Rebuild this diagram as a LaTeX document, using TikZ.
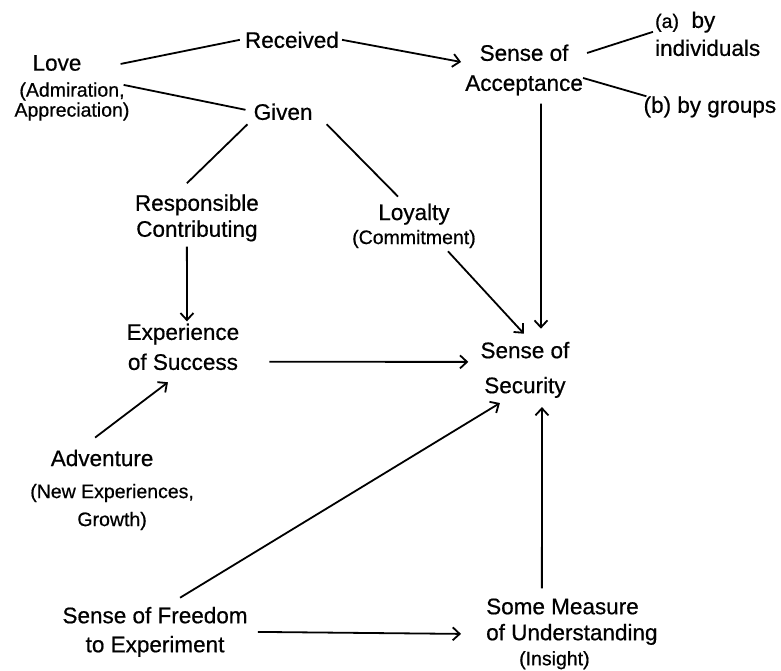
\documentclass[tikz,border=0pt]{standalone}
\usepackage{fontspec}
\setmainfont{Liberation Sans}[FakeBold=0.6]
\usetikzlibrary{arrows.meta}

\newcommand{\bigtxt}{\fontsize{22.5}{27}\selectfont}
\newcommand{\smalltxt}{\fontsize{19.5}{23}\selectfont}

\tikzset{
  lbl/.style={font=\bigtxt, align=center, inner sep=0pt},
  link/.style={line width=1.8pt},
  arr/.style={link, -{Straight Barb[length=7pt,width=13pt]}}
}

\begin{document}
\begin{tikzpicture}
\useasboundingbox (0, 0) rectangle (27.45, 23.58);
% top part
\node[lbl] (love) at (2.53, 20.49) {Love\hspace*{30pt}\\[-1pt]{\smalltxt (Admiration,\hspace*{10pt}}\\[-7pt]{\smalltxt Appreciation)}};
\node[lbl] (received) at (10.26, 22.18) {Received};
\node[lbl] (given) at (9.95, 19.65) {Given};
\node[lbl] (accept) at (18.42, 21.12) {Sense of\\[3pt]Acceptance};
\node[lbl, anchor=west, align=left] (indiv) at (23.02, 22.39) {{\smalltxt (a)}\ \ by\\[1pt]individuals};
\node[lbl] (groups) at (24.95, 19.82) {(b) by groups};
% middle part
\node[lbl] (resp) at (6.92, 15.92) {Responsible\\[-1pt]Contributing};
\node[lbl] (loyal) at (14.55, 15.64) {Loyalty\\[-3pt]{\smalltxt (Commitment)}};
\node[lbl] (exper) at (6.43, 11.39) {Experience\\[3pt]of Success};
\node[lbl] (secur) at (18.45, 10.58) {Sense of\\[8pt]Security};
\node[lbl] (advent) at (3.94, 6.36) {Adventure\hspace*{20pt}\\[5pt]{\smalltxt (New Experiences,}\\[1pt]{\smalltxt Growth)}};
% bottom part
\node[lbl] (free) at (5.45, 1.37) {Sense of Freedom\\[2pt]to Experiment};
\node[lbl, align=left] (under) at (20.10, 1.30) {Some Measure\\[-1pt]of Understanding\\[-2pt]\hspace*{33pt}{\smalltxt (Insight)}};

\draw[link] ([xshift=-9pt,yshift=-9pt]love.north east) -- ([xshift=-5pt]received.west);
\draw[arr] ([xshift=3pt]received.east) -- ([xshift=-4pt,yshift=8pt]accept.west);
\draw[link] ([xshift=-6pt,yshift=3pt]love.east) -- ([xshift=-8pt,yshift=2pt]given.west);
\draw[link] ([xshift=4pt,yshift=17pt]accept.east) -- ([xshift=-2pt,yshift=2pt]indiv.west);
\draw[link] ([yshift=-8pt]accept.east) -- ([xshift=3pt]groups.north west);
\draw[arr] ([xshift=17pt,yshift=-8pt]accept.south) -- ([xshift=16pt,yshift=13pt]secur.north);
\draw[link] ([xshift=-6pt,yshift=-4pt]given.south west) -- ([xshift=-10pt,yshift=11pt]resp.north);
\draw[link] ([xshift=14pt,yshift=-4pt]given.south east) -- ([xshift=-16pt,yshift=7pt]loyal.north);
\draw[arr] ([xshift=34pt,yshift=-3pt]loyal.south) -- ([xshift=-1pt,yshift=8pt]secur.north);
\draw[arr] ([xshift=-10pt,yshift=-5pt]resp.south) -- ([xshift=4pt,yshift=2pt]exper.north);
\draw[arr] ([xshift=30pt,yshift=-15pt]exper.east) -- ([xshift=-12pt,yshift=8pt]secur.west);
\draw[arr] ([xshift=-17pt,yshift=12pt]advent.north) -- ([xshift=-15pt,yshift=-12pt]exper.south);
\draw[arr] ([xshift=25pt,yshift=9pt]free.north) -- ([xshift=-25pt,yshift=-5pt]secur.south);
\draw[arr] ([xshift=10pt]free.east) -- ([xshift=-25pt]under.west);
\draw[arr] ([xshift=-30pt,yshift=10pt]under.north) -- ([xshift=17pt,yshift=-9pt]secur.south);
\end{tikzpicture}
\end{document}
